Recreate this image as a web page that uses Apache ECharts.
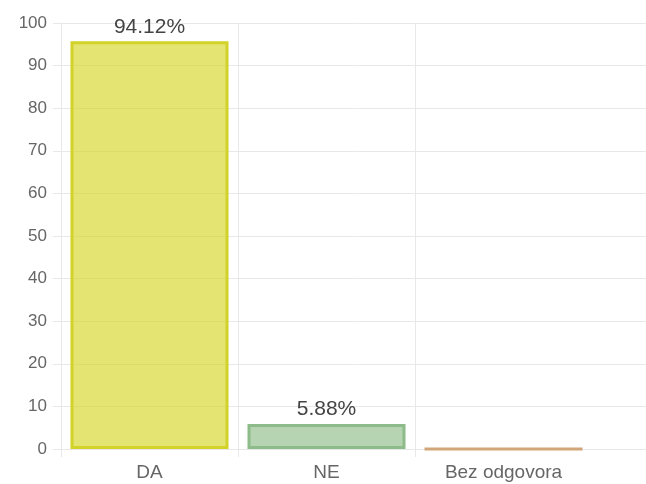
<!DOCTYPE html>
<html>
<head>
<meta charset="utf-8">
<script src="https://cdn.jsdelivr.net/npm/echarts@6/dist/echarts.min.js"></script>
<style>
  html, body { margin: 0; padding: 0; background: #fff; }
  #chart { width: 646px; height: 484px; }
</style>
</head>
<body>
<div id="chart"></div>
<script>
const categories = ['DA', 'NE', 'Bez odgovora'];
// bar heights
const values = [95.7, 5.88, 0];
// percentage texts printed on top of the bars
const valueLabels = ['94.12%', '5.88%', ''];
const fillColors = ['rgba(214,214,40,0.65)', 'rgba(143,187,137,0.65)', 'rgba(210,166,121,0.65)'];
const borderColors = ['#d2d228', '#8dbb89', '#d2a679'];

const gridColor = '#e8e8e8';
// the original has no line on the right end of the last category
const boundaryColors = [gridColor, gridColor, gridColor, 'rgba(0,0,0,0)'];

const myChart = echarts.init(document.getElementById('chart'));

const option = {
  animation: false,
  grid: [
    // main plot, 3 categories of ~177px
    { left: 61, right: 54, top: 23, bottom: 35 },
    // carries the horizontal grid lines to the right edge
    { left: 61, right: 0, top: 23, bottom: 35 },
    // carries the small ticks under the first two category boundaries
    { left: 61, right: 231, top: 23, bottom: 35 }
  ],
  xAxis: [
    {
      type: 'category',
      gridIndex: 0,
      data: categories,
      boundaryGap: true,
      axisLine: { show: true, lineStyle: { color: gridColor, width: 1 } },
      axisTick: { show: false },
      splitLine: {
        show: true,
        interval: 0,
        lineStyle: { color: boundaryColors }
      },
      axisLabel: {
        color: '#666',
        fontSize: 19,
        fontFamily: 'Liberation Sans',
        margin: 14,
        interval: 0
      }
    },
    {
      type: 'value',
      gridIndex: 1,
      show: false
    },
    {
      type: 'category',
      gridIndex: 2,
      data: ['', ''],
      boundaryGap: true,
      axisLine: { show: false },
      axisLabel: { show: false },
      splitLine: { show: false },
      axisTick: { show: true, length: 8, interval: 0, lineStyle: { color: gridColor } }
    }
  ],
  yAxis: [
    {
      type: 'value',
      gridIndex: 0,
      min: 0,
      max: 100,
      interval: 10,
      axisLine: { show: true, lineStyle: { color: gridColor } },
      axisTick: { show: true, length: 8, lineStyle: { color: gridColor } },
      splitLine: { show: false },
      axisLabel: {
        color: '#666',
        fontSize: 17,
        fontFamily: 'Liberation Sans',
        margin: 14
      }
    },
    {
      type: 'value',
      gridIndex: 1,
      min: 0,
      max: 100,
      interval: 10,
      axisLine: { show: false },
      axisTick: { show: false },
      axisLabel: { show: false },
      splitLine: { show: true, lineStyle: { color: gridColor } }
    },
    {
      type: 'value',
      gridIndex: 2,
      show: false
    }
  ],
  series: [
    {
      type: 'bar',
      xAxisIndex: 0,
      yAxisIndex: 0,
      barWidth: 158,
      data: values.map((v, i) => ({
        value: v,
        itemStyle: {
          color: fillColors[i],
          borderColor: borderColors[i],
          borderWidth: 3
        }
      })),
      label: {
        show: true,
        position: 'top',
        distance: 4,
        color: '#444',
        fontSize: 21,
        fontFamily: 'Liberation Sans',
        formatter: (p) => valueLabels[p.dataIndex]
      }
    }
  ]
};

myChart.setOption(option);

window.addEventListener('resize', function () {
  myChart.resize();
});
</script>
</body>
</html>
